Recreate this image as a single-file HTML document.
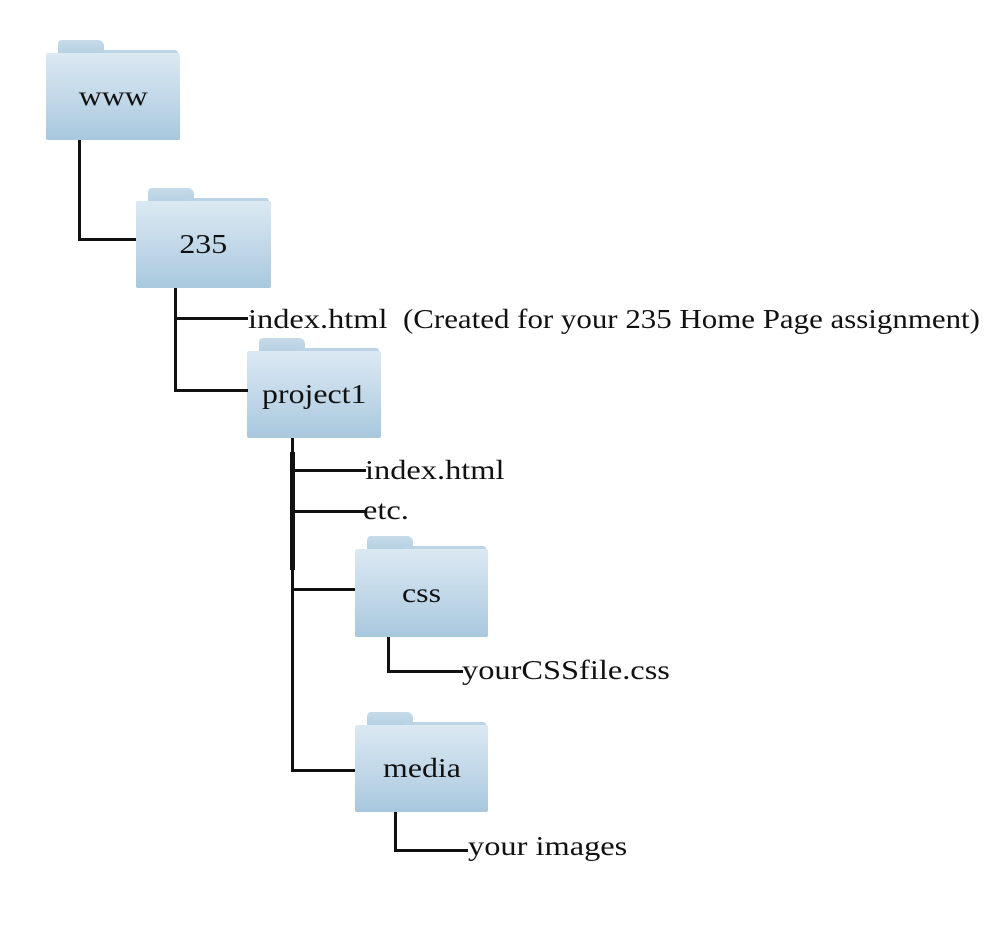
<!DOCTYPE html>
<html><head><meta charset="utf-8"><style>
html,body{margin:0;padding:0;background:#fff;}
body{width:1000px;height:941px;position:relative;overflow:hidden;font-family:"Liberation Serif",serif;color:#111;}
.f{position:absolute;}
.tab{position:absolute;left:12px;top:0;width:46px;height:16px;background:linear-gradient(#c6dbe9,#b4cfe2);border-radius:4px 6px 0 0;}
.tab2{position:absolute;left:50px;top:10px;right:2px;height:8px;background:#bcd5e6;border-radius:0 3px 0 0;}
.body{position:absolute;left:0;top:13px;right:0;bottom:0;background:linear-gradient(#dbe9f3,#c3d9e9 50%,#a8c8de);border-radius:2px;display:flex;align-items:center;justify-content:center;font-size:27px;}
.body span{display:inline-block;transform:scaleX(1.18);}
.l{position:absolute;background:#111;}
.t{position:absolute;font-size:27px;line-height:1;white-space:nowrap;transform:scaleX(1.2);transform-origin:0 0;}
</style></head><body>
<div class="f" style="left:46px;top:40px;width:134px;height:100px"><div class="tab"></div><div class="tab2"></div><div class="body"><span>www</span></div></div>
<div class="f" style="left:136px;top:188px;width:135px;height:100px"><div class="tab"></div><div class="tab2"></div><div class="body"><span>235</span></div></div>
<div class="f" style="left:247px;top:338px;width:134px;height:100px"><div class="tab"></div><div class="tab2"></div><div class="body"><span>project1</span></div></div>
<div class="f" style="left:355px;top:536px;width:133px;height:101px"><div class="tab"></div><div class="tab2"></div><div class="body"><span>css</span></div></div>
<div class="f" style="left:355px;top:712px;width:133px;height:100px"><div class="tab"></div><div class="tab2"></div><div class="body"><span>media</span></div></div>

<div class="l" style="left:78px;top:140px;width:3px;height:101px"></div>
<div class="l" style="left:78px;top:238px;width:58px;height:3px"></div>

<div class="l" style="left:174px;top:288px;width:3px;height:104px"></div>
<div class="l" style="left:174px;top:317px;width:74px;height:3px"></div>
<div class="l" style="left:174px;top:389px;width:74px;height:3px"></div>

<div class="l" style="left:291px;top:438px;width:3px;height:334px"></div>
<div class="l" style="left:290px;top:452px;width:5px;height:118px"></div>
<div class="l" style="left:291px;top:469px;width:75px;height:3px"></div>
<div class="l" style="left:291px;top:510px;width:75px;height:3px"></div>
<div class="l" style="left:291px;top:588px;width:64px;height:3px"></div>
<div class="l" style="left:291px;top:769px;width:64px;height:3px"></div>

<div class="l" style="left:387px;top:637px;width:3px;height:36px"></div>
<div class="l" style="left:387px;top:670px;width:76px;height:3px"></div>
<div class="l" style="left:394px;top:812px;width:3px;height:40px"></div>
<div class="l" style="left:394px;top:849px;width:74px;height:3px"></div>

<div class="t" style="left:248px;top:306px">index.html</div>
<div class="t" style="left:403px;top:306px;transform:scaleX(1.145)">(Created for your 235 Home Page assignment)</div>
<div class="t" style="left:365px;top:457px">index.html</div>
<div class="t" style="left:363px;top:497px">etc.</div>
<div class="t" style="left:462px;top:657px">yourCSSfile.css</div>
<div class="t" style="left:468px;top:833px">your images</div>
</body></html>
